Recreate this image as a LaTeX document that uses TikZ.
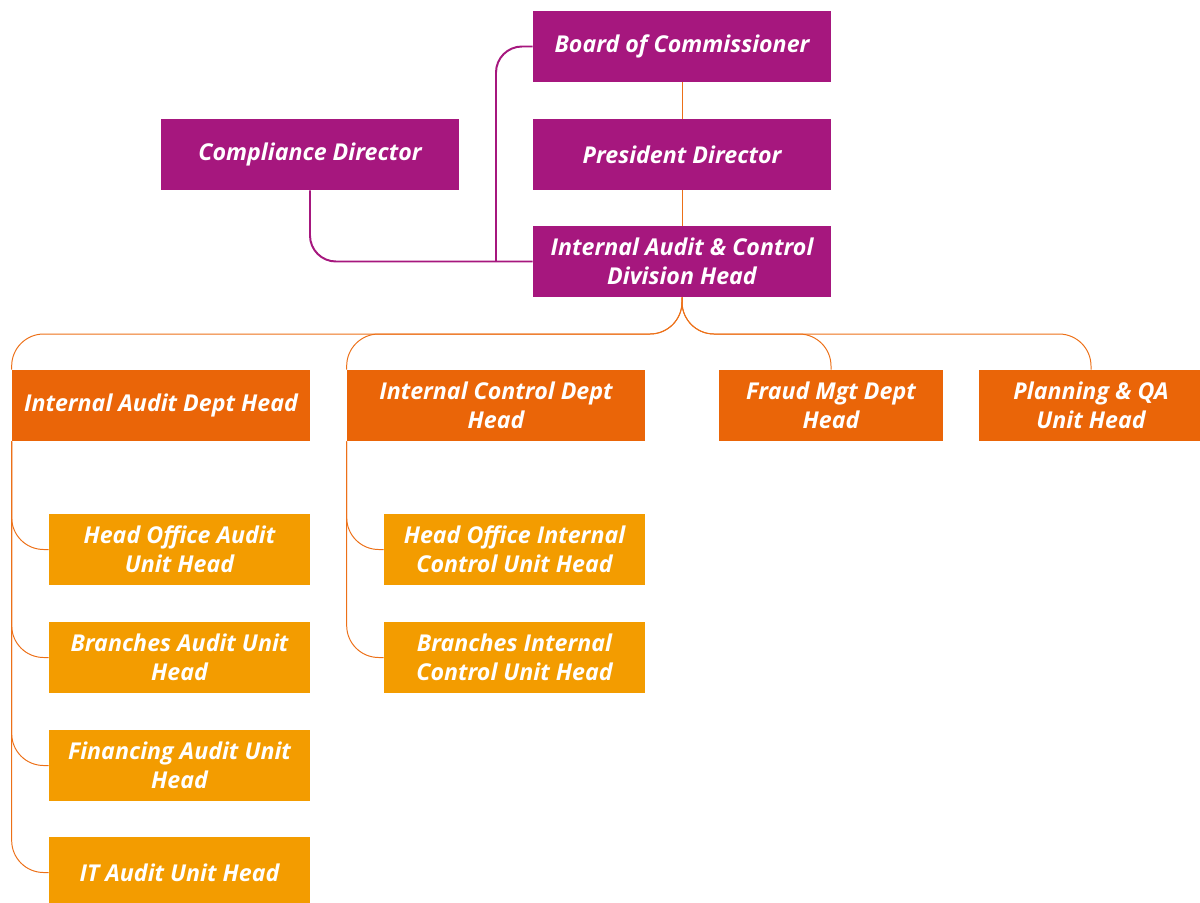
\documentclass[tikz,border=0pt]{standalone}
\usepackage{fontspec}
\setmainfont{Open Sans}
\usetikzlibrary{positioning,calc}
\definecolor{plum}{RGB}{166,23,126}
\definecolor{deptorange}{RGB}{234,101,8}
\definecolor{unitorange}{RGB}{243,156,0}
\definecolor{lineorange}{RGB}{236,112,24}

\begin{document}
\begin{tikzpicture}[x=0.025cm,y=-0.025cm,
    box/.style={fill=#1, text=white, align=center, inner sep=0pt,
      minimum height=1.775cm, font=\fontsize{16.5}{20.5}\selectfont\bfseries\itshape},
    board/.style={box=plum, minimum width=7.45cm},
    dept/.style={box=deptorange, minimum width=7.45cm},
    smalldept/.style={box=deptorange, minimum width=5.6cm},
    unit/.style={box=unitorange, minimum width=6.525cm},
    plink/.style={draw=plum, line width=1.4pt, rounded corners=0.65cm},
    olink/.style={draw=lineorange, line width=0.7pt, rounded corners=0.8cm}]
  \useasboundingbox (0,0) rectangle (1200,902);

  % Board level
  \node[board] (boc) at (682,46.5) {Board of Commissioner};
  \node[board] (pd) at (682,154.5) {President Director};
  \node[board] (cd) at (310,154.5) {Compliance Director};
  \node[board] (iac) at (682,261.5) {Internal Audit \& Control\\Division Head};

  % Departments
  \node[dept] (iad) at (161,405.5) {Internal Audit Dept Head};
  \node[dept] (icd) at (496,405.5) {Internal Control Dept\\Head};
  \node[smalldept] (fmd) at (831,405.5) {Fraud Mgt Dept\\Head};
  \node[smalldept] (pqa) at (1091,405.5) {Planning \& QA\\Unit Head};

  % Units under internal audit
  \node[unit] (hoa) at (179.5,549.5) {Head Office Audit\\Unit Head};
  \node[unit] (bra) at (179.5,657.5) {Branches Audit Unit\\Head};
  \node[unit] (fia) at (179.5,765.5) {Financing Audit Unit\\Head};
  \node[unit] (ita) at (179.5,872.5) {IT Audit Unit Head};

  % Units under internal control
  \node[unit] (hoc) at (514.5,549.5) {Head Office Internal\\Control Unit Head};
  \node[unit] (brc) at (514.5,657.5) {Branches Internal\\Control Unit Head};

  % Connectors
  \coordinate (jn) at (496,261.5);
  \coordinate (bus) at (682,334);
  \draw[plink] (boc.west) -| (jn);
  \draw[plink] (cd.south) |- (iac.west);
  \draw[olink] (boc) -- (pd);
  \draw[olink] (pd) -- (iac);
  \draw[olink] (iac.south) |- (iad.north west |- bus) -- (iad.north west);
  \draw[olink] (iac.south) |- (icd.north west |- bus) -- (icd.north west);
  \draw[olink] (iac.south) |- (fmd.north |- bus) -- (fmd.north);
  \draw[olink] (iac.south) |- (pqa.north |- bus) -- (pqa.north);
  \foreach \u in {hoa,bra,fia,ita}
    \draw[olink] (iad.south west) |- (\u.west);
  \foreach \u in {hoc,brc}
    \draw[olink] (icd.south west) |- (\u.west);
\end{tikzpicture}
\end{document}
